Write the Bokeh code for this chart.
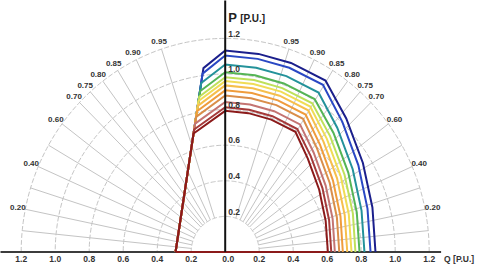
import numpy as np
from bokeh.plotting import figure
from bokeh.core.properties import value
from bokeh.embed import file_html
from bokeh.resources import INLINE

# ---------------- data ----------------
q_ticks = [-1.2, -1.0, -0.8, -0.6, -0.4, -0.2, 0.0, 0.2, 0.4, 0.6, 0.8, 1.0, 1.2]
p_ticks = [0.2, 0.4, 0.6, 0.8, 1.0, 1.2]
grid_radii = [0.2, 0.4, 0.6, 0.8, 1.0, 1.2]
pf_grid = [0.1, 0.2, 0.3, 0.4, 0.5, 0.6, 0.7, 0.75, 0.8, 0.85, 0.9, 0.95]
pf_labels = [0.20, 0.40, 0.60, 0.70, 0.75, 0.80, 0.85, 0.90, 0.95]

# capability curves, inner (dark red) to outer (navy)
curve_colors = ["#8b1a1a", "#a53a3a", "#c47472", "#d98e4a", "#ef9c3c", "#f6bf4c",
                "#f0dc55", "#bfe05a", "#55b455", "#24929a", "#2a48c4", "#1b1f8c"]
stab_q0 = -0.292          # stability line at P = 0
corner_q = [-0.186, -0.183, -0.177, -0.171, -0.166, -0.161, -0.157, -0.153, -0.148, -0.141, -0.133, -0.128]
corner_p = [0.666, 0.688, 0.721, 0.759, 0.791, 0.821, 0.848, 0.872, 0.903, 0.949, 1.002, 1.033]
p_at_q0 = [0.793, 0.813, 0.843, 0.879, 0.908, 0.936, 0.960, 0.982, 1.010, 1.053, 1.104, 1.132]
top1_q = [0.137, 0.141, 0.146, 0.152, 0.157, 0.162, 0.166, 0.170, 0.175, 0.182, 0.191, 0.196]
top1_p = [0.780, 0.799, 0.829, 0.864, 0.893, 0.920, 0.944, 0.966, 0.993, 1.035, 1.085, 1.113]
top2_q = [0.271, 0.278, 0.288, 0.301, 0.310, 0.320, 0.328, 0.336, 0.345, 0.360, 0.377, 0.387]
top2_p = [0.744, 0.763, 0.791, 0.825, 0.852, 0.878, 0.901, 0.921, 0.947, 0.988, 1.035, 1.062]
knee_q = [0.413, 0.424, 0.440, 0.458, 0.473, 0.488, 0.500, 0.512, 0.526, 0.549, 0.575, 0.590]
knee_p = [0.675, 0.691, 0.717, 0.748, 0.772, 0.796, 0.817, 0.835, 0.859, 0.896, 0.939, 0.963]
low1_q = [0.486, 0.503, 0.520, 0.540, 0.558, 0.578, 0.598, 0.617, 0.637, 0.659, 0.689, 0.712]
low1_p = [0.525, 0.539, 0.559, 0.582, 0.602, 0.620, 0.636, 0.651, 0.669, 0.698, 0.731, 0.750]
low2_q = [0.553, 0.572, 0.591, 0.615, 0.634, 0.658, 0.680, 0.702, 0.724, 0.750, 0.783, 0.810]
low2_p = [0.350, 0.359, 0.373, 0.388, 0.401, 0.414, 0.424, 0.434, 0.446, 0.465, 0.488, 0.500]
low3_q = [0.591, 0.611, 0.632, 0.657, 0.678, 0.703, 0.727, 0.751, 0.774, 0.802, 0.837, 0.866]
low3_p = [0.175, 0.180, 0.186, 0.194, 0.201, 0.207, 0.212, 0.217, 0.223, 0.233, 0.244, 0.250]
q_max = [0.604, 0.624, 0.645, 0.671, 0.692, 0.718, 0.743, 0.766, 0.790, 0.819, 0.855, 0.884]

# ---------------- figure ----------------
W, H = 480, 269
SX, SY = 170.0, 178.0          # px per unit
OX, OY = 224.7, 251.5          # origin in figure px (from left / from top)
p = figure(width=W, height=H,
           x_range=(-OX / SX, (W - OX) / SX), y_range=(-(H - OY) / SY, OY / SY),
           output_backend="svg", toolbar_location=None,
           x_axis_location=None, y_axis_location=None,
           min_border=0, outline_line_color=None)
p.grid.visible = False
p.background_fill_color = "white"

FONT = value("Liberation Sans")
GRID = "#c4c4c4"

# grid semicircles (ellipses in screen space)
t = np.linspace(0, np.pi, 181)
p.multi_line(xs=[list(r * np.cos(t)) for r in grid_radii],
             ys=[list(r * np.sin(t)) for r in grid_radii],
             line_color=GRID, line_width=1, line_dash="5 2")

# power-factor rays
xs, ys = [], []
for pf in pf_grid:
    th = np.arccos(pf)
    for sgn in (-1, 1):
        xs.append([sgn * 0.2 * np.sin(th), sgn * 1.2 * np.sin(th)])
        ys.append([0.2 * np.cos(th), 1.2 * np.cos(th)])
p.multi_line(xs=xs, ys=ys, line_color=GRID, line_width=1)

# pf labels
lx, ly, lt = [], [], []
for pf in pf_labels:
    th = np.arccos(pf)
    for sgn in (-1, 1):
        lx.append(sgn * 1.245 * np.sin(th))
        ly.append(1.245 * np.cos(th))
        lt.append("%.2f" % pf)
p.text(x=lx, y=ly, text=lt, text_align="center", text_baseline="middle",
       text_font=FONT, text_font_style="bold", text_font_size="8px", text_color="#333333")

# x axis line
p.line([-1.4, 1.27], [0, 0], line_color="#3c3c3c", line_width=2)

# capability curves: outer first, inner last
n = len(q_max)
for i in reversed(range(n)):
    cx = [stab_q0, corner_q[i], 0.0, top1_q[i], top2_q[i], knee_q[i],
          low1_q[i], low2_q[i], low3_q[i], q_max[i]]
    cy = [0.0, corner_p[i], p_at_q0[i], top1_p[i], top2_p[i], knee_p[i],
          low1_p[i], low2_p[i], low3_p[i], 0.0]
    if i == 0:
        cx = cx + [stab_q0]
        cy = cy + [0.0]
    p.line(cx, cy, line_color=curve_colors[i], line_width=2, line_join="miter")

# vertical axis line
p.line([0, 0], [0, 1.5], line_color="#111111", line_width=2)

# tick labels
p.text(x=[q for q in q_ticks if q != 0], y=[-0.037] * (len(q_ticks) - 1),
       text=["%.1f" % abs(q) for q in q_ticks if q != 0],
       text_align="center", text_baseline="middle",
       text_font=FONT, text_font_style="bold", text_font_size="8.5px", text_color="#333333")
p.text(x=[0.0], y=[-0.037], text=["0.0"], x_offset=3,
       text_align="center", text_baseline="middle",
       text_font=FONT, text_font_style="bold", text_font_size="8.5px", text_color="#333333")
p.text(x=[0.0] * len(p_ticks), y=[v + 0.027 for v in p_ticks], text=["%.1f" % v for v in p_ticks],
       x_offset=3, text_align="left", text_baseline="middle",
       text_font=FONT, text_font_style="bold", text_font_size="8.5px", text_color="#333333")

# axis titles
p.text(x=[0.0], y=[(OY - 17) / SY], text=["P"], x_offset=3, text_align="left",
       text_baseline="alphabetic", text_font=FONT, text_font_style="bold",
       text_font_size="13px", text_color="#222222")
p.text(x=[0.0], y=[(OY - 17.5) / SY], text=["[P.U.]"], x_offset=15, text_align="left",
       text_baseline="alphabetic", text_font=FONT, text_font_style="bold",
       text_font_size="10px", text_color="#222222")
p.text(x=[1.27], y=[-0.040], text=["Q [P.U.]"], x_offset=3, text_align="left",
       text_baseline="middle", text_font=FONT, text_font_style="bold",
       text_font_size="8.5px", text_color="#333333")

open("out.html", "w").write(file_html(p, INLINE))
